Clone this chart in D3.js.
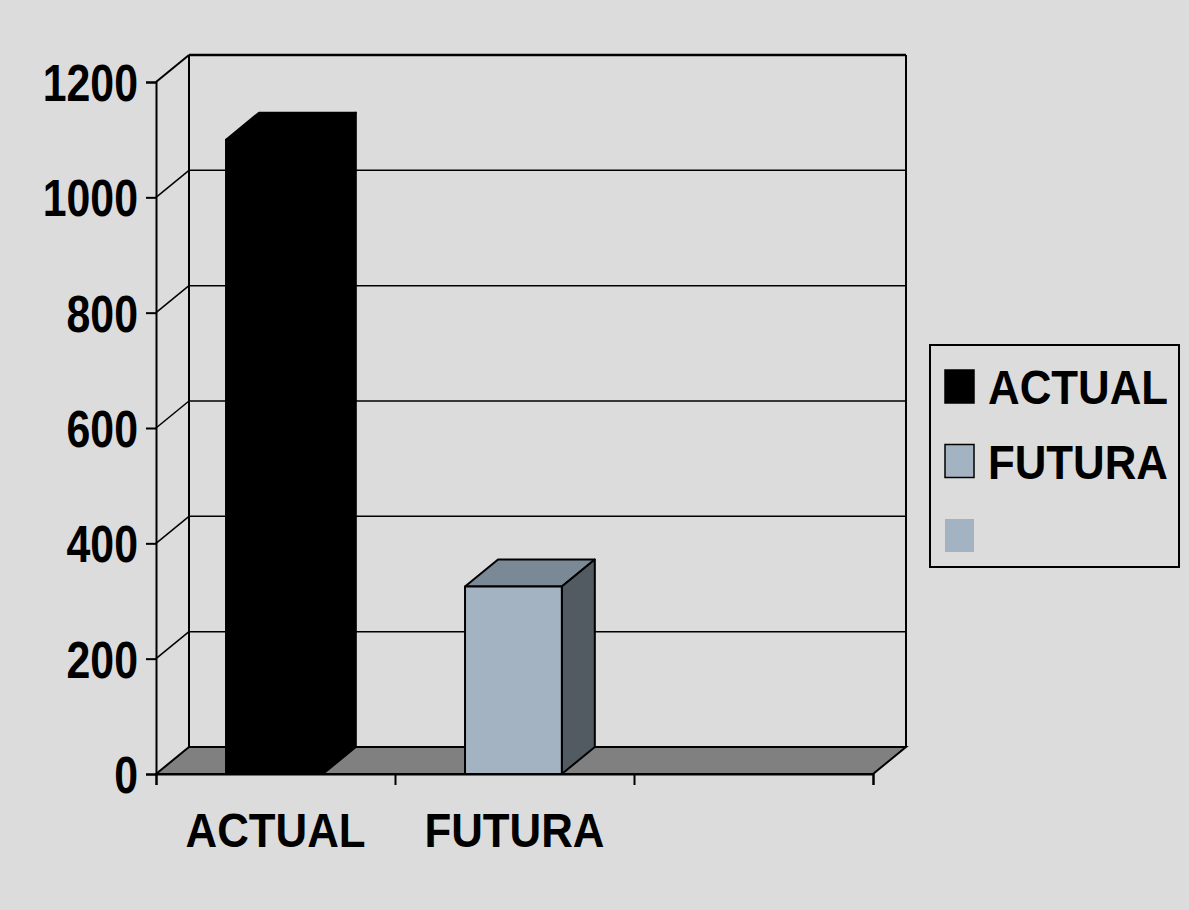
<!DOCTYPE html>
<html>
<head>
<meta charset="utf-8">
<script src="https://cdn.jsdelivr.net/npm/d3@7"></script>
<style>
  body { margin: 0; background: #dcdcdc; }
  text { font-family: "Liberation Sans", Arial, sans-serif; font-weight: bold; }
</style>
</head>
<body>
<div id="chart"></div>
<script>
var categories = ["ACTUAL", "FUTURA", ""];
var values = [1100, 325, 0];
var yTicks = [0, 200, 400, 600, 800, 1000, 1200];
var legendNames = ["ACTUAL", "FUTURA", ""];

var width = 1189, height = 910;
var dx = 33, dy = -27; // depth of the 3d box

var svg = d3.select("#chart")
  .append("svg")
    .attr("width", width)
    .attr("height", height);

svg.append("rect")
  .attr("width", width).attr("height", height)
  .attr("fill", "#dcdcdc");

var x = d3.scaleBand()
    .domain(categories)
    .range([156, 873]);

var y = d3.scaleLinear()
    .domain([0, 1200])
    .range([774, 82]);

var x0 = x.range()[0], x1 = x.range()[1];

// floor
svg.append("polygon")
  .attr("points", [[x0, y(0)], [x1, y(0)], [x1 + dx, y(0) + dy], [x0 + dx, y(0) + dy]].join(" "))
  .attr("fill", "#808080")
  .attr("stroke", "#000")
  .attr("stroke-width", 2);

// gridlines on the walls
var grid = svg.append("g");
yTicks.filter(function(d) { return d > 0; }).forEach(function(d) {
  grid.append("line")
    .attr("x1", x0).attr("y1", y(d))
    .attr("x2", x0 + dx).attr("y2", y(d) + dy)
    .attr("stroke", "#000").attr("stroke-width", d == 1200 ? 2 : 1.5);
  grid.append("line")
    .attr("x1", x0 + dx).attr("y1", y(d) + dy)
    .attr("x2", x1 + dx).attr("y2", y(d) + dy)
    .attr("stroke", "#000").attr("stroke-width", d == 1200 ? 2.5 : 1.5);
});

// back wall edges
svg.append("line")
  .attr("x1", x0 + dx).attr("y1", y(0) + dy)
  .attr("x2", x0 + dx).attr("y2", y(1200) + dy)
  .attr("stroke", "#000").attr("stroke-width", 2);
svg.append("line")
  .attr("x1", x1 + dx).attr("y1", y(0) + dy)
  .attr("x2", x1 + dx).attr("y2", y(1200) + dy)
  .attr("stroke", "#000").attr("stroke-width", 2);

// y axis
var yAxis = svg.append("g")
  .attr("transform", "translate(" + x0 + ",0)")
  .call(d3.axisLeft(y).tickValues(yTicks).tickSize(10).tickPadding(8).tickFormat(d3.format("d")));
yAxis.select(".domain").attr("stroke-width", 2);
yAxis.selectAll(".tick line").attr("stroke-width", 2);
yAxis.selectAll("text")
  .style("font-size", "51px")
  .attr("fill", "#000")
  .attr("dy", "0.36em")
  .each(function() {
    var len = this.getComputedTextLength();
    d3.select(this)
      .attr("textLength", len * 0.84)
      .attr("lengthAdjust", "spacingAndGlyphs");
  });

// x axis
var xTickScale = d3.scaleLinear().domain([0, 3]).range([x0, x1]);
var xAxis = svg.append("g")
  .attr("transform", "translate(0," + y(0) + ")")
  .call(d3.axisBottom(xTickScale).ticks(3).tickSize(11).tickFormat(""));
xAxis.select(".domain").attr("stroke-width", 2);
xAxis.selectAll(".tick line").attr("stroke-width", 2);

svg.append("g").selectAll("text")
  .data(categories.filter(function(d) { return d != ""; }))
  .enter()
  .append("text")
    .attr("x", function(d) { return x(d) + x.bandwidth() / 2; })
    .attr("y", 847)
    .attr("text-anchor", "middle")
    .attr("textLength", 180)
    .attr("lengthAdjust", "spacingAndGlyphs")
    .style("font-size", "48px")
    .text(function(d) { return d; });

// bars
var faces = [
  { front: "#000", top: "#000", side: "#000" },
  { front: "#a3b3c2", top: "#7b8895", side: "#525a62" },
  { front: "#a3b3c2", top: "#7b8895", side: "#525a62" }
];
var barOff = 0.293, barW = 0.405;
var bars = svg.append("g");
categories.forEach(function(c, i) {
  if (values[i] <= 0) return;
  var bx = x(c) + x.bandwidth() * barOff,
      bw = x.bandwidth() * barW,
      by = y(values[i]), b0 = y(0);
  var g = bars.append("g")
    .attr("stroke", "#000").attr("stroke-width", 2).attr("stroke-linejoin", "round");
  g.append("polygon")
    .attr("points", [[bx, by], [bx + bw, by], [bx + bw + dx, by + dy], [bx + dx, by + dy]].join(" "))
    .attr("fill", faces[i].top);
  g.append("polygon")
    .attr("points", [[bx + bw, by], [bx + bw + dx, by + dy], [bx + bw + dx, b0 + dy], [bx + bw, b0]].join(" "))
    .attr("fill", faces[i].side);
  g.append("rect")
    .attr("x", bx).attr("y", by)
    .attr("width", bw).attr("height", b0 - by)
    .attr("fill", faces[i].front);
});

// legend
var legend = svg.append("g").attr("transform", "translate(930,345)");
legend.append("rect")
  .attr("width", 249).attr("height", 222)
  .attr("fill", "none").attr("stroke", "#000").attr("stroke-width", 2);
legendNames.forEach(function(n, i) {
  var row = legend.append("g").attr("transform", "translate(15," + (25 + i * 74.5) + ")");
  row.append("rect")
    .attr("width", 29).attr("height", 33)
    .attr("fill", faces[i].front)
    .attr("stroke", i < 2 ? "#000" : "none")
    .attr("stroke-width", 1.5);
  if (n != "") {
    row.append("text")
      .attr("x", 43).attr("y", 34)
      .attr("textLength", 180)
      .attr("lengthAdjust", "spacingAndGlyphs")
      .style("font-size", "48px")
      .text(n);
  }
});
</script>
</body>
</html>
